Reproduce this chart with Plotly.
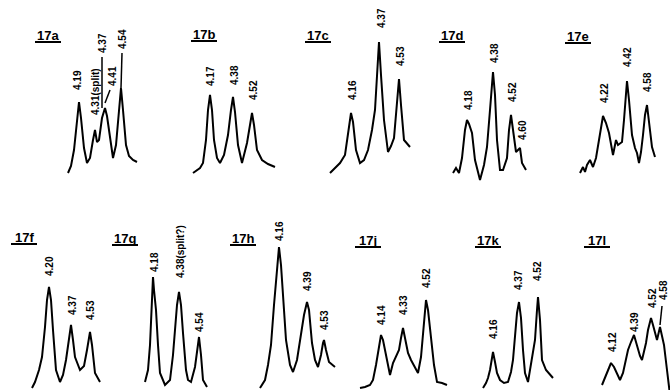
import plotly.graph_objects as go

# ---- panel titles ----
TITLES = ["17a", "17b", "17c", "17d", "17e", "17f", "17g", "17h", "17j", "17k", "17l"]
TITLE_X = [48, 204, 318, 452, 578, 24, 125, 243, 368, 488, 597]
TITLE_Y = [35, 34, 35, 35, 36, 237, 238, 238, 240, 240, 240]

# ---- traced spectra (page pixel units) ----
S17A_X = [68, 71, 74, 77, 79, 81, 84, 87, 90, 93, 95, 97, 99, 102, 105, 107, 110, 113, 116, 119, 121, 123, 126, 129, 133, 137]
S17A_Y = [173, 166, 150, 118, 102, 118, 148, 163, 158, 140, 130, 142, 140, 118, 108, 116, 140, 158, 145, 110, 88, 110, 145, 156, 160, 162]
S17B_X = [193, 197, 200, 203, 206, 208, 210, 212, 214, 217, 220, 224, 228, 231, 233, 235, 238, 242, 245, 247, 250, 252, 254, 257, 262, 268, 275]
S17B_Y = [173, 170, 168, 163, 140, 110, 95, 110, 140, 158, 163, 155, 135, 110, 97, 112, 145, 163, 150, 143, 125, 113, 125, 150, 160, 164, 167]
S17C_X = [330, 335, 340, 345, 348, 350, 351, 353, 356, 360, 364, 368, 372, 375, 377, 379, 381, 384, 388, 391, 394, 397, 399, 401, 404, 410]
S17C_Y = [173, 168, 163, 155, 135, 118, 113, 122, 150, 163, 160, 150, 130, 110, 75, 42, 75, 120, 152, 146, 138, 100, 79, 105, 140, 147]
S17D_X = [453, 456, 459, 462, 465, 467, 469, 472, 475, 480, 484, 487, 490, 492, 493, 495, 497, 500, 503, 507, 509, 511, 513, 516, 518, 520, 522, 526]
S17D_Y = [173, 168, 173, 158, 130, 120, 124, 133, 160, 180, 165, 147, 110, 80, 72, 95, 140, 170, 170, 158, 130, 115, 130, 152, 150, 148, 163, 170]
S17E_X = [580, 583, 585, 587, 590, 593, 596, 600, 603, 606, 609, 613, 616, 618, 620, 622, 624, 626, 627, 629, 632, 635, 637, 639, 641, 643, 645, 647, 649, 652, 655]
S17E_Y = [173, 167, 172, 165, 160, 167, 158, 135, 116, 123, 133, 155, 140, 145, 143, 142, 120, 90, 81, 100, 135, 148, 153, 163, 152, 135, 115, 105, 120, 147, 157]
S17F_X = [32, 35, 39, 42, 45, 47, 49, 51, 53, 56, 60, 63, 66, 69, 71, 73, 75, 80, 84, 87, 89, 90, 92, 95, 100]
S17F_Y = [388, 382, 370, 357, 327, 300, 287, 300, 330, 370, 382, 375, 360, 340, 325, 340, 357, 370, 366, 350, 337, 332, 345, 373, 382]
S17G_X = [145, 148, 150, 152, 153, 154, 156, 158, 160, 165, 170, 173, 175, 177, 179, 181, 183, 186, 188, 191, 195, 197, 199, 201, 203, 207]
S17G_Y = [382, 370, 345, 295, 277, 290, 310, 345, 373, 385, 380, 355, 333, 305, 292, 305, 333, 370, 380, 382, 367, 350, 337, 355, 380, 387]
S17H_X = [260, 265, 268, 271, 274, 277, 279, 281, 283, 286, 290, 293, 297, 301, 304, 307, 309, 312, 315, 318, 321, 323, 324, 326, 329, 335]
S17H_Y = [388, 380, 365, 345, 305, 265, 247, 265, 300, 340, 365, 372, 360, 333, 315, 302, 310, 343, 360, 367, 355, 343, 340, 350, 362, 367]
S17J_X = [360, 365, 370, 373, 376, 379, 381, 383, 386, 388, 390, 393, 396, 399, 401, 403, 405, 408, 411, 415, 418, 421, 423, 425, 426, 428, 431, 434, 437, 442, 447]
S17J_Y = [388, 387, 385, 380, 365, 345, 335, 340, 355, 367, 375, 363, 357, 350, 338, 328, 338, 353, 360, 368, 373, 357, 335, 310, 300, 310, 340, 365, 382, 383, 385]
S17K_X = [483, 486, 488, 490, 492, 493, 495, 497, 500, 504, 508, 511, 513, 515, 517, 519, 521, 523, 525, 528, 531, 533, 535, 537, 538, 540, 542, 546, 550, 553]
S17K_Y = [388, 383, 378, 370, 358, 352, 362, 373, 380, 383, 382, 372, 360, 335, 313, 302, 318, 350, 373, 382, 365, 352, 340, 310, 297, 320, 360, 370, 375, 378]
S17L_X = [602, 605, 607, 609, 611, 614, 617, 620, 623, 626, 628, 631, 634, 636, 638, 640, 642, 644, 646, 648, 651, 653, 655, 657, 660, 664, 667, 670]
S17L_Y = [385, 378, 373, 367, 363, 367, 373, 380, 373, 360, 350, 342, 335, 342, 350, 356, 360, 352, 343, 330, 318, 325, 333, 340, 327, 345, 370, 395]

SPECTRA_X = [S17A_X, S17B_X, S17C_X, S17D_X, S17E_X, S17F_X, S17G_X, S17H_X, S17J_X, S17K_X, S17L_X]
SPECTRA_Y = [S17A_Y, S17B_Y, S17C_Y, S17D_Y, S17E_Y, S17F_Y, S17G_Y, S17H_Y, S17J_Y, S17K_Y, S17L_Y]

# ---- peak labels (chemical shifts) ----
PEAK_TEXT = [
    ["4.19", "4.31(split)", "4.37", "4.41", "4.54"],
    ["4.17", "4.38", "4.52"],
    ["4.16", "4.37", "4.53"],
    ["4.18", "4.38", "4.52", "4.60"],
    ["4.22", "4.42", "4.58"],
    ["4.20", "4.37", "4.53"],
    ["4.18", "4.38(split?)", "4.54"],
    ["4.16", "4.39", "4.53"],
    ["4.14", "4.33", "4.52"],
    ["4.16", "4.37", "4.52"],
    ["4.12", "4.39", "4.52", "4.58"],
]
PEAK_LABEL_X = [
    [77, 95, 102, 112, 122],
    [210, 234, 253],
    [352, 381, 400],
    [468, 494, 512, 522],
    [604, 627, 647],
    [49, 72, 90],
    [154, 180, 199],
    [279, 307, 324],
    [381, 403, 426],
    [493, 518, 537],
    [612, 634, 652, 663],
]
PEAK_LABEL_Y = [
    [80, 92, 43, 76, 39],
    [76, 75, 90],
    [90, 18, 56],
    [100, 53, 92, 130],
    [93, 57, 82],
    [266, 305, 310],
    [262, 252, 322],
    [231, 281, 320],
    [315, 305, 278],
    [329, 280, 271],
    [342, 322, 298, 290],
]

# leader lines from labels to peaks
LEADER_X = [[102, 102], [122, 121], [110, 105], [662, 660]]
LEADER_Y = [[57, 108], [53, 88], [90, 103], [306, 325]]

fig = go.Figure()
for xs, ys in zip(SPECTRA_X, SPECTRA_Y):
    fig.add_trace(go.Scatter(x=xs, y=ys, mode="lines",
                             line=dict(color="black", width=2), hoverinfo="skip",
                             showlegend=False))
for xs, ys in zip(LEADER_X, LEADER_Y):
    fig.add_trace(go.Scatter(x=xs, y=ys, mode="lines",
                             line=dict(color="black", width=1.5), hoverinfo="skip",
                             showlegend=False))

for texts, lx, ly in zip(PEAK_TEXT, PEAK_LABEL_X, PEAK_LABEL_Y):
    for t, x, y in zip(texts, lx, ly):
        fig.add_annotation(x=x, y=y, text="<b>" + t + "</b>", showarrow=False,
                           textangle=-90, xanchor="center", yanchor="middle",
                           font=dict(family="Liberation Sans, Arial", size=10, color="black"))

for t, x, y in zip(TITLES, TITLE_X, TITLE_Y):
    fig.add_annotation(x=x, y=y, text="<b>" + t + "</b>", showarrow=False,
                       xanchor="center", yanchor="middle",
                       font=dict(family="Liberation Sans, Arial", size=13, color="black"))
    fig.add_shape(type="line", x0=x - 13, x1=x + 13, y0=y + 7, y1=y + 7,
                  line=dict(color="black", width=2))

fig.update_xaxes(range=[0, 670], visible=False, fixedrange=True)
fig.update_yaxes(range=[390, 0], visible=False, fixedrange=True)
fig.update_layout(width=670, height=390, margin=dict(l=0, r=0, t=0, b=0),
                  plot_bgcolor="white", paper_bgcolor="white")
fig.write_html("out.html")
